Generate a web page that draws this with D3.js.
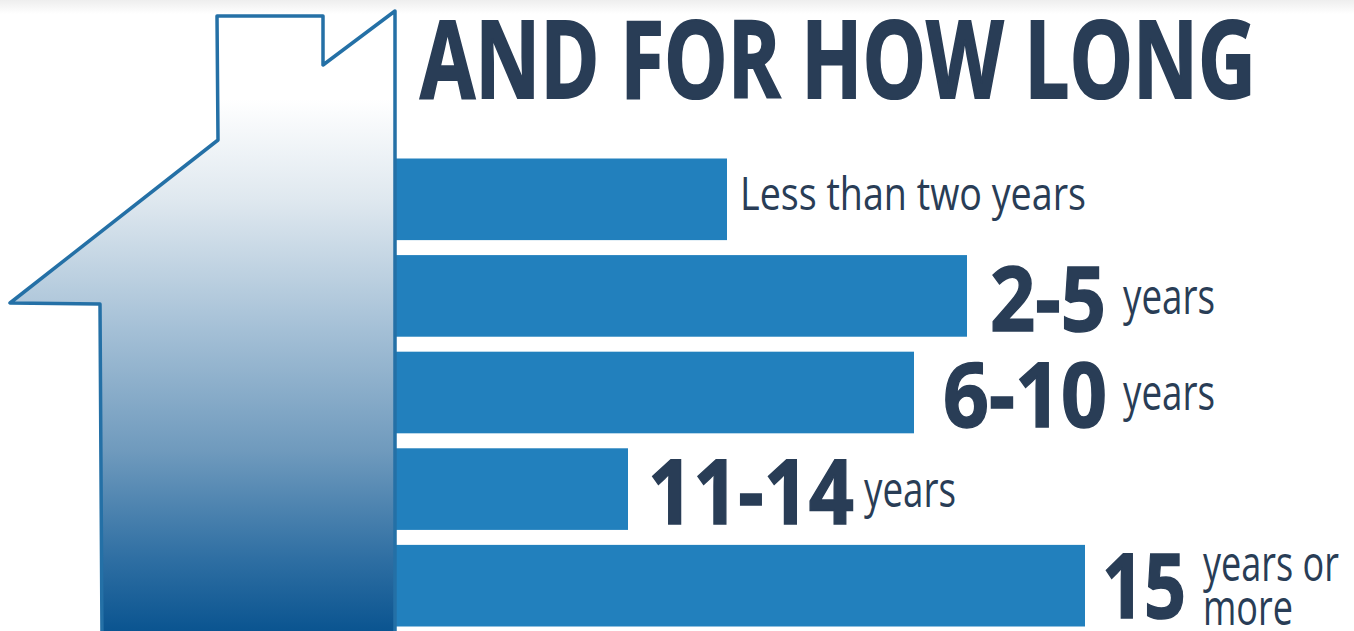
<!DOCTYPE html>
<html><head><meta charset="utf-8">
<style>html,body{margin:0;padding:0;background:#fff;overflow:hidden}svg{display:block}</style>
<script src="https://cdn.jsdelivr.net/npm/d3@7"></script></head>
<body><svg id="c" width="1354" height="631"></svg>
<script>
const categories = ["Less than two years","2-5 years","6-10 years","11-14 years","15 years or more"];
const values = [16.6, 28.6, 25.95, 11.65, 34.5]; // relative length (no axis in source)
const bigLabels = ["", "2-5", "6-10", "11-14", "15"];
const smallLabels = [["Less than two years"],["years"],["years"],["years"],["years or","more"]];
const title = "AND FOR HOW LONG";

const W=1354,H=631, ink="#293d56", barCol="#2280bd";
const svg=d3.select("#c");
const defs=svg.append("defs");
const g=defs.append("linearGradient").attr("id","hg").attr("x1",0).attr("x2",0).attr("y1",0).attr("y2",1);
[[0,"#ffffff"],[0.14,"#ffffff"],[0.3,"#dfe8ef"],[0.5,"#a6c1d7"],[0.7,"#6f9abd"],[0.87,"#2f6fa3"],[1,"#06518e"]]
 .forEach(d=>g.append("stop").attr("offset",d[0]).attr("stop-color",d[1]));
const t=defs.append("linearGradient").attr("id","top").attr("x1",0).attr("x2",0).attr("y1",0).attr("y2",1);
t.append("stop").attr("offset",0).attr("stop-color","#eeeeee");
t.append("stop").attr("offset",1).attr("stop-color","#ffffff");
svg.append("rect").attr("width",W).attr("height",14).attr("fill","url(#top)");

const x=d3.scaleLinear().domain([0,34.5]).range([395,1085]);
const y=d3.scaleBand().domain(categories).range([158.5,626.5]).paddingInner(0.155).paddingOuter(0);

svg.selectAll("rect.bar").data(categories).join("rect").attr("class","bar")
 .attr("x",x(0)).attr("y",d=>y(d)).attr("height",y.bandwidth())
 .attr("width",(d,i)=>x(values[i])-x(0)).attr("fill",barCol);

const house=[[323,16],[217,16],[218,140],[10,303],[100,304],[102,640],[395,640],[395,11],[323,65]];
svg.append("path").attr("d",d3.line()(house)+"Z").attr("fill","url(#hg)")
 .attr("stroke","#2470a6").attr("stroke-width",3.5).attr("stroke-linejoin","round");

const FONT="'Open Sans',sans-serif";
function fit(txt,x0,base,size,weight,width,sw){
  svg.append("text").text(txt).attr("x",x0).attr("y",base)
   .attr("font-family",FONT).attr("font-size",size).attr("font-weight",weight)
   .attr("fill",ink).attr("stroke",ink).attr("stroke-width",sw)
   .attr("textLength",width).attr("lengthAdjust","spacingAndGlyphs");
}
fit(title,420,98,108,700,836,2);
const bigPos=[null,[990,331,90,116],[943,427,90,164],[648,524,90,206],[1102,618,90,84]];
const smallPos=[[[740,210,46,346]],[[1123,314,50,92]],[[1123,410,50,92]],[[864,507,50,92]],[[1203,581,50,136],[1203,625,50,90]]];
bigLabels.forEach((b,i)=>{ if(b) fit(b,bigPos[i][0],bigPos[i][1],bigPos[i][2],700,bigPos[i][3],1.5); });
smallLabels.forEach((lines,i)=>lines.forEach((l,j)=>{const p=smallPos[i][j];fit(l,p[0],p[1],p[2],400,p[3],0);}));
</script></body></html>
